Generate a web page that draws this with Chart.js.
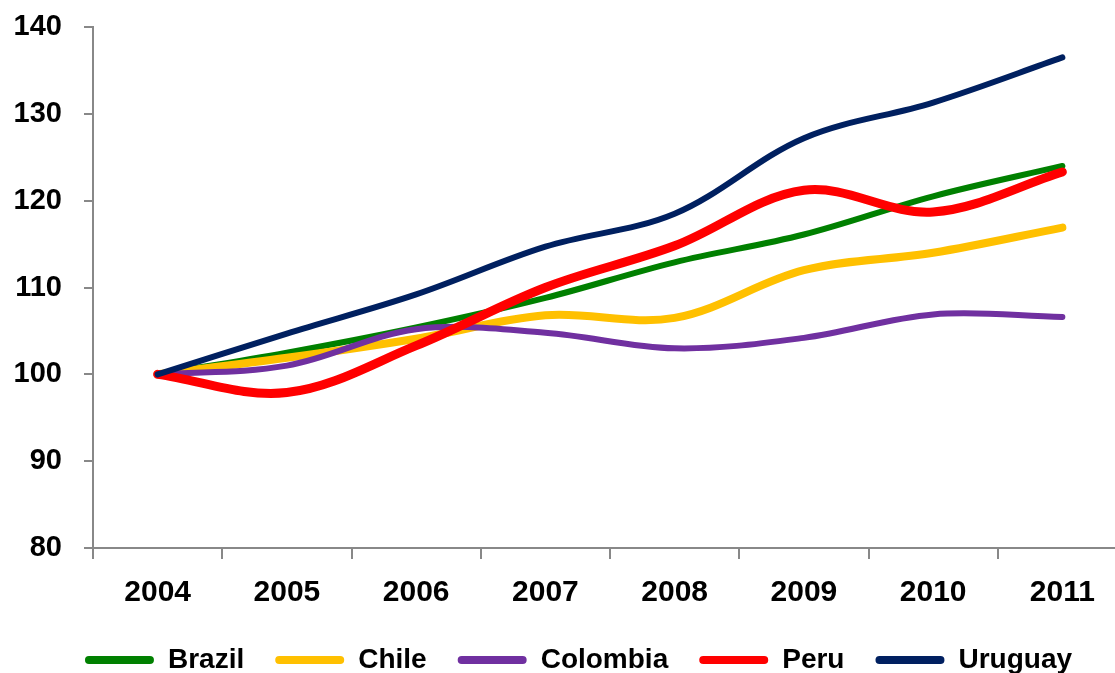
<!DOCTYPE html>
<html lang="en">
<head>
<meta charset="UTF-8">
<title>Index 2004 = 100</title>
<script src="https://cdn.jsdelivr.net/npm/chart.js"></script>
<style>
  html, body { margin: 0; padding: 0; background: #fff; overflow: hidden; }
</style>
</head>
<body>
<canvas id="chart" width="1160" height="700"></canvas>
<script>
// data
const years = ["2004", "2005", "2006", "2007", "2008", "2009", "2010", "2011"];
const brazil   = [100, 102.5, 105.4, 108.8, 112.9, 116.1, 120.5, 124.0];
const chile    = [100, 101.9, 104.1, 106.8, 106.5, 112.0, 114.0, 116.9];
const colombia = [100, 101.0, 105.2, 104.8, 103.0, 104.2, 106.9, 106.6];
const peru     = [100, 97.9, 103.3, 110.0, 114.8, 121.2, 118.7, 123.3];
const uruguay  = [100, 104.7, 109.2, 114.7, 118.5, 127.2, 131.3, 136.5];
const yTicks   = [80, 90, 100, 110, 120, 130, 140];

const family = "'Liberation Sans', Arial, sans-serif";
const axisGrey = "#888888";

function line(label, data, color, width, order) {
  return {
    label, data, order,
    borderColor: color,
    backgroundColor: color,
    borderWidth: width,
    borderCapStyle: "round",
    pointRadius: 0,
    tension: 0.35,
    fill: false
  };
}

// nudge the legend up and right a little after layout
const legendShift = {
  id: "legendShift",
  afterLayout(chart) {
    const lg = chart.legend;
    if (!lg) return;
    lg.top -= 12;
    lg.bottom -= 12;
    lg.left += 15;
    lg.right += 15;
  }
};

new Chart(document.getElementById("chart").getContext("2d"), {
  type: "line",
  data: {
    labels: years,
    datasets: [
      line("Brazil", brazil, "#008000", 6, 5),
      line("Chile", chile, "#FFC000", 8, 4),
      line("Colombia", colombia, "#7030A0", 6, 3),
      line("Peru", peru, "#FF0000", 9, 2),
      line("Uruguay", uruguay, "#002060", 6, 1)
    ]
  },
  plugins: [legendShift],
  options: {
    responsive: false,
    devicePixelRatio: 1,
    animation: false,
    layout: { padding: { top: 0, right: 33, bottom: 4, left: 0 } },
    plugins: {
      tooltip: { enabled: false },
      legend: {
        position: "bottom",
        labels: {
          font: { family, size: 28, weight: "bold" },
          color: "#000",
          boxWidth: 69,
          boxHeight: 8,
          useBorderRadius: true,
          borderRadius: 4,
          padding: 31,
          sort: (a, b) => a.datasetIndex - b.datasetIndex,
          generateLabels: (chart) =>
            Chart.defaults.plugins.legend.labels.generateLabels(chart)
              .map(l => Object.assign(l, { lineWidth: 0 }))
        }
      }
    },
    scales: {
      x: {
        offset: true,
        grid: { offset: true, drawOnChartArea: false, drawTicks: true, tickLength: 11, color: axisGrey, lineWidth: 2 },
        border: { display: true, color: axisGrey, width: 2 },
        ticks: { font: { family, size: 30, weight: "bold" }, color: "#000", padding: 16, maxRotation: 0 }
      },
      y: {
        min: 80,
        max: 140,
        afterFit: (s) => { s.width = 93; s.paddingTop = 27; s.paddingBottom = 0; },
        afterBuildTicks: (s) => { s.ticks = yTicks.map(v => ({ value: v })); },
        grid: { drawOnChartArea: false, drawTicks: true, tickLength: 9, color: axisGrey, lineWidth: 2 },
        border: { display: true, color: axisGrey, width: 2 },
        ticks: { font: { family, size: 29, weight: "bold" }, color: "#000", padding: 22 }
      }
    }
  }
});
</script>
</body>
</html>
